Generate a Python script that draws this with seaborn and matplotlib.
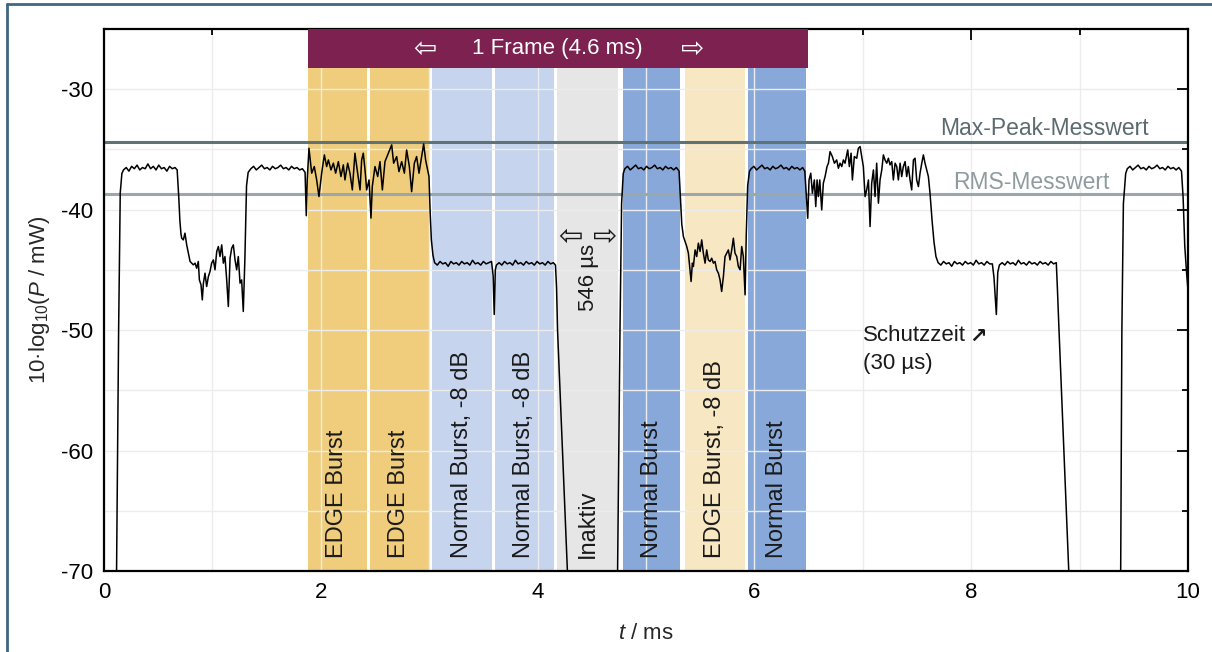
import numpy as np
import pandas as pd
import matplotlib
import matplotlib.pyplot as plt
import seaborn as sns
from matplotlib.lines import Line2D

matplotlib.use("Agg")

# --- Daten -------------------------------------------------------------------
# Zeitschlitze eines GSM/EDGE-Rahmens (Start/Ende in ms) und Beschriftung
slot_start = [1.882, 2.454, 3.026, 3.607, 4.179, 4.788, 5.360, 5.941]
slot_end = [2.426, 2.998, 3.575, 4.148, 4.742, 5.314, 5.913, 6.476]
slot_label = ["EDGE Burst", "EDGE Burst", "Normal Burst, -8 dB", "Normal Burst, -8 dB",
              "Inaktiv", "Normal Burst", "EDGE Burst, -8 dB", "Normal Burst"]
slot_color = ["#f0cd7d", "#f0cd7d", "#c6d4ee", "#c6d4ee",
              "#e6e6e6", "#88a8d9", "#f8e7c3", "#88a8d9"]

frame_start, frame_end = 1.88, 6.49
frame_floor = -28.25

max_peak_db = -34.4
rms_db = -38.7

# Messkurve: Liste von (t / ms, Pegel / dB)
trace_0 = [(0.116, -70.0), (0.135, -50.0), (0.15, -38.6), (0.165, -37.0),
           (0.18, -36.7), (0.205, -36.5), (0.23, -36.8), (0.255, -36.4), (0.28, -36.6),
           (0.305, -36.3), (0.33, -36.7), (0.355, -36.5), (0.38, -36.6), (0.405, -36.2),
           (0.43, -36.6), (0.455, -36.4), (0.48, -36.7), (0.505, -36.3), (0.53, -36.6),
           (0.555, -36.5), (0.58, -36.8), (0.605, -36.4), (0.63, -36.6), (0.655, -36.5),
           (0.675, -36.7)]
trace_1 = [(0.69, -39.0), (0.70, -40.9), (0.71, -42.0), (0.717, -42.37), (0.732, -42.51),
           (0.747, -41.95), (0.763, -42.92), (0.778, -43.61), (0.794, -44.30), (0.809, -44.44),
           (0.824, -44.58), (0.840, -44.44), (0.855, -44.86), (0.870, -44.30), (0.880, -45.83),
           (0.895, -46.24), (0.907, -47.49), (0.917, -46.10), (0.932, -45.27), (0.947, -46.38),
           (0.963, -45.55), (0.978, -45.13), (0.993, -44.44), (1.009, -44.17), (1.024, -44.99),
           (1.040, -43.47), (1.055, -43.06), (1.070, -43.89), (1.086, -42.92), (1.101, -44.44),
           (1.116, -43.89), (1.132, -45.83), (1.147, -48.04), (1.163, -44.03), (1.178, -43.20),
           (1.193, -42.92), (1.209, -44.17), (1.224, -44.99), (1.239, -43.89), (1.255, -46.10),
           (1.270, -45.83), (1.285, -48.45)]
trace_2 = [(1.30, -44.0), (1.315, -38.0), (1.33, -36.9),
           (1.355, -36.6), (1.38, -36.4), (1.405, -36.7), (1.43, -36.5), (1.455, -36.3),
           (1.48, -36.6), (1.505, -36.5), (1.53, -36.7), (1.555, -36.4), (1.58, -36.6),
           (1.605, -36.5), (1.63, -36.3), (1.655, -36.6), (1.68, -36.5), (1.705, -36.7),
           (1.73, -36.4), (1.755, -36.6), (1.78, -36.5), (1.805, -36.7), (1.83, -36.6),
           (1.855, -36.9), (1.866, -40.5), (1.875, -37.5)]
trace_3 = [(1.891, -34.90), (1.916, -36.97), (1.940, -36.42), (1.962, -37.53), (1.983, -38.91),
           (2.008, -36.97), (2.033, -35.45), (2.054, -36.42), (2.070, -35.87), (2.094, -36.70),
           (2.116, -36.14), (2.137, -36.97), (2.162, -36.01), (2.186, -37.25), (2.208, -36.28),
           (2.223, -37.53), (2.248, -36.14), (2.269, -36.97), (2.291, -38.36), (2.315, -35.31),
           (2.340, -36.97), (2.362, -38.36), (2.377, -35.87), (2.392, -35.31), (2.408, -36.70),
           (2.423, -38.36), (2.445, -37.53), (2.463, -40.70), (2.475, -38.08), (2.500, -36.42),
           (2.525, -37.25), (2.546, -36.01), (2.568, -38.36), (2.592, -36.01), (2.623, -35.31),
           (2.654, -34.62), (2.672, -36.14), (2.700, -35.59), (2.721, -36.84), (2.746, -36.01),
           (2.771, -36.97), (2.792, -35.04), (2.817, -36.42), (2.838, -38.50), (2.863, -36.14),
           (2.884, -35.59), (2.906, -36.97), (2.930, -35.59), (2.949, -34.54), (2.967, -35.87),
           (2.986, -36.70), (2.998, -37.25)]
trace_4 = [(3.008, -40.0), (3.02, -42.5), (3.035, -43.8), (3.05, -44.4),
           (3.075, -44.6), (3.1, -44.3), (3.125, -44.5), (3.15, -44.4), (3.175, -44.7),
           (3.2, -44.3), (3.225, -44.5), (3.25, -44.4), (3.275, -44.6), (3.3, -44.3),
           (3.325, -44.5), (3.35, -44.4), (3.375, -44.6), (3.4, -44.2), (3.425, -44.5),
           (3.45, -44.4), (3.475, -44.6), (3.5, -44.3), (3.525, -44.5), (3.55, -44.4),
           (3.575, -44.3), (3.59, -45.5), (3.60, -48.7), (3.61, -45.0), (3.62, -44.6),
           (3.645, -44.4), (3.67, -44.6), (3.695, -44.3), (3.72, -44.5), (3.745, -44.4),
           (3.77, -44.6), (3.795, -44.2), (3.82, -44.5), (3.845, -44.4), (3.87, -44.6),
           (3.895, -44.3), (3.92, -44.5), (3.945, -44.4), (3.97, -44.6), (3.995, -44.3),
           (4.02, -44.5), (4.045, -44.4), (4.07, -44.6), (4.095, -44.3), (4.12, -44.5),
           (4.145, -44.4), (4.165, -44.6), (4.175, -46.5), (4.184, -50.0), (4.275, -70.0)]
trace_5 = [(4.738, -70.0), (4.76, -50.0), (4.775, -39.5), (4.79, -37.0),
           (4.805, -36.6), (4.83, -36.4), (4.855, -36.7), (4.88, -36.5), (4.905, -36.3),
           (4.93, -36.6), (4.955, -36.5), (4.98, -36.7), (5.005, -36.4), (5.03, -36.6),
           (5.055, -36.5), (5.08, -36.3), (5.105, -36.6), (5.13, -36.5), (5.155, -36.7),
           (5.18, -36.4), (5.205, -36.6), (5.23, -36.5), (5.255, -36.7), (5.28, -36.5),
           (5.305, -36.8)]
trace_6 = [(5.32, -39.5), (5.33, -41.2), (5.345, -42.23), (5.360, -42.64), (5.376, -43.06),
           (5.391, -43.61), (5.406, -44.99), (5.416, -45.96), (5.428, -44.44), (5.437, -44.72),
           (5.453, -43.34), (5.468, -43.89), (5.483, -42.78), (5.499, -43.47), (5.514, -42.51),
           (5.529, -43.61), (5.545, -44.44), (5.560, -43.34), (5.575, -44.17), (5.591, -44.30),
           (5.606, -44.03), (5.622, -44.44), (5.637, -44.30), (5.652, -44.99), (5.668, -45.27),
           (5.683, -45.83), (5.698, -46.79), (5.714, -45.55), (5.729, -43.89), (5.745, -43.61),
           (5.760, -43.34), (5.775, -44.17), (5.791, -43.34), (5.806, -42.37), (5.821, -43.61),
           (5.837, -43.89), (5.852, -44.72), (5.868, -44.99), (5.883, -43.06), (5.898, -43.89),
           (5.914, -47.07)]
trace_7 = [(5.925, -42.0), (5.938, -38.0), (5.955, -36.8),
           (5.97, -36.6), (5.995, -36.4), (6.02, -36.7), (6.045, -36.5), (6.07, -36.3),
           (6.095, -36.6), (6.12, -36.5), (6.145, -36.7), (6.17, -36.4), (6.195, -36.6),
           (6.22, -36.5), (6.245, -36.3), (6.27, -36.6), (6.295, -36.5), (6.32, -36.7),
           (6.345, -36.4), (6.37, -36.6), (6.395, -36.5), (6.42, -36.7), (6.445, -36.5),
           (6.465, -36.8)]
trace_8 = [(6.492, -40.71), (6.504, -37.53), (6.520, -36.97), (6.535, -38.63), (6.553, -37.53),
           (6.566, -39.74), (6.578, -37.53), (6.590, -38.91), (6.603, -37.53), (6.621, -40.02),
           (6.636, -37.80), (6.652, -37.25), (6.670, -36.42), (6.683, -36.14), (6.698, -35.18),
           (6.719, -35.59), (6.738, -36.14), (6.759, -35.87), (6.775, -36.56), (6.790, -36.14),
           (6.806, -36.42), (6.821, -35.87), (6.836, -36.14), (6.861, -35.04), (6.876, -36.42),
           (6.892, -35.31), (6.904, -37.53), (6.922, -35.59), (6.944, -35.73), (6.959, -34.90),
           (6.975, -34.76), (6.990, -35.59), (7.005, -36.42), (7.021, -38.91), (7.036, -38.36),
           (7.052, -37.53), (7.067, -41.40), (7.082, -37.80), (7.098, -36.70), (7.113, -38.91),
           (7.128, -36.14), (7.144, -39.46), (7.159, -37.53), (7.175, -36.70), (7.190, -35.45),
           (7.205, -35.87), (7.221, -36.14), (7.236, -35.73), (7.251, -36.28), (7.267, -36.01),
           (7.282, -37.53), (7.298, -36.14), (7.313, -36.42), (7.328, -37.53), (7.344, -36.14),
           (7.359, -37.25), (7.374, -36.42), (7.390, -36.01), (7.405, -37.25), (7.420, -36.42),
           (7.436, -37.53), (7.451, -38.36), (7.467, -35.87), (7.482, -35.73), (7.497, -37.53),
           (7.513, -38.08), (7.528, -36.97), (7.544, -36.14), (7.559, -35.45), (7.574, -36.14),
           (7.590, -36.70), (7.605, -37.25), (7.620, -38.63)]
trace_9 = [(7.64, -41.0), (7.657, -42.7), (7.675, -43.9), (7.695, -44.4),
           (7.72, -44.6), (7.745, -44.3), (7.77, -44.5), (7.795, -44.4), (7.82, -44.7),
           (7.845, -44.3), (7.87, -44.5), (7.895, -44.4), (7.92, -44.6), (7.945, -44.3),
           (7.97, -44.5), (7.995, -44.4), (8.02, -44.6), (8.045, -44.2), (8.07, -44.5),
           (8.095, -44.4), (8.12, -44.6), (8.145, -44.3), (8.17, -44.5), (8.195, -44.5),
           (8.21, -45.6), (8.232, -48.7), (8.245, -45.2), (8.26, -44.6),
           (8.285, -44.4), (8.31, -44.6), (8.335, -44.3), (8.36, -44.5), (8.385, -44.4),
           (8.41, -44.6), (8.435, -44.2), (8.46, -44.5), (8.485, -44.4), (8.51, -44.6),
           (8.535, -44.3), (8.56, -44.5), (8.585, -44.4), (8.61, -44.6), (8.635, -44.3),
           (8.66, -44.5), (8.685, -44.4), (8.71, -44.6), (8.735, -44.3), (8.76, -44.5),
           (8.785, -44.4), (8.795, -46.5), (8.81, -50.0), (8.90, -70.0)]
trace_10 = [(9.379, -70.0), (9.39, -50.0), (9.404, -39.5), (9.425, -37.0),
            (9.44, -36.6), (9.465, -36.4), (9.49, -36.7), (9.515, -36.5), (9.54, -36.3),
            (9.565, -36.6), (9.59, -36.5), (9.615, -36.7), (9.64, -36.4), (9.665, -36.6),
            (9.69, -36.5), (9.715, -36.3), (9.74, -36.6), (9.765, -36.5), (9.79, -36.7),
            (9.815, -36.4), (9.84, -36.6), (9.865, -36.5), (9.89, -36.7), (9.915, -36.5),
            (9.94, -36.8), (9.955, -39.0), (9.97, -43.0), (9.985, -45.0), (10.0, -46.7)]

# zusammenhaengende Kurvenstuecke (Luecken = Pegel unter -70 dB)
pieces = [
    trace_0 + trace_1 + trace_2 + trace_3 + trace_4,
    trace_5 + trace_6 + trace_7 + trace_8 + trace_9,
    trace_10,
]

rows = []
for i, piece in enumerate(pieces):
    for t, p in piece:
        rows.append({"t": t, "p": p, "seg": i})
df = pd.DataFrame(rows)

# --- Plot --------------------------------------------------------------------
sns.set_theme(style="white")
plt.rcParams["font.family"] = ["Liberation Sans", "DejaVu Sans"]
plt.rcParams["mathtext.fontset"] = "custom"
plt.rcParams["mathtext.rm"] = "Liberation Sans"
plt.rcParams["mathtext.it"] = "Liberation Sans:italic"
plt.rcParams["axes.unicode_minus"] = False

ARROWS = ["DejaVu Sans"]
TXT = "#1a1a1a"

y_min, y_max = -70, -25
frac = (frame_floor - y_min) / (y_max - y_min)
banner_mid = (frame_floor + y_max) / 2

fig = plt.figure(figsize=(12.12, 6.52), dpi=100)
ax = fig.add_axes([0.0858, 0.1242, 0.8944, 0.8313])

for s, e, c in zip(slot_start, slot_end, slot_color):
    ax.axvspan(s, e, ymin=0, ymax=frac, color=c, lw=0, zorder=0.2)

ax.axhline(max_peak_db, color="#5f7377", lw=2.2, zorder=1.8)
ax.axhline(rms_db, color="#9aa8ac", lw=2.2, zorder=1.8)

sns.lineplot(data=df, x="t", y="p", units="seg", estimator=None, sort=False,
             color="black", lw=1.1, ax=ax, zorder=2, legend=False)

ax.axvspan(frame_start, frame_end, ymin=frac, ymax=1, color="#7c2150", lw=0, zorder=3)
ax.text((frame_start + frame_end) / 2, banner_mid, "1 Frame (4.6 ms)",
        color="white", fontsize=16, ha="center", va="center", zorder=4)
ax.text(2.96, banner_mid, "⇦", color="white", fontsize=20, family=ARROWS,
        ha="center", va="center", zorder=4)
ax.text(5.43, banner_mid, "⇨", color="white", fontsize=20, family=ARROWS,
        ha="center", va="center", zorder=4)

for s, e, lab in zip(slot_start, slot_end, slot_label):
    ax.text((s + e) / 2, -68.9, lab, rotation=90, ha="center", va="bottom",
            fontsize=17, color=TXT, zorder=4)

# Inaktiv-Dauer
ax.text(4.30, -42.3, "⇦", fontsize=21, family=ARROWS, ha="center", va="center",
        color=TXT, zorder=4)
ax.text(4.62, -42.3, "⇨", fontsize=21, family=ARROWS, ha="center", va="center",
        color=TXT, zorder=4)
ax.text(4.465, -45.6, "546 µs", rotation=90, fontsize=16, ha="center", va="center",
        color=TXT, zorder=4)

ax.text(9.64, -33.3, "Max-Peak-Messwert", fontsize=16.5, color="#5b6b6f",
        ha="right", va="center", zorder=4)
ax.text(9.28, -37.75, "RMS-Messwert", fontsize=16.5, color="#8e9ca0",
        ha="right", va="center", zorder=4)

ax.text(7.0, -49.6, "Schutzzeit", fontsize=16, ha="left", va="top", color=TXT, zorder=4)
ax.text(7.98, -49.75, "↗", fontsize=15, family=ARROWS, fontweight="bold",
        ha="left", va="top", color=TXT, zorder=4)
ax.text(7.0, -51.9, "(30 µs)", fontsize=16, ha="left", va="top", color=TXT, zorder=4)

ax.set_xlim(0, 10)
ax.set_ylim(y_min, y_max)
ax.set_xticks(range(0, 11, 2))
ax.set_xticks(range(1, 10, 2), minor=True)
ax.set_yticks(range(-70, -29, 10))
ax.set_yticks(range(-65, -29, 10), minor=True)
ax.tick_params(which="both", direction="in", top=True, right=True,
               colors="black", labelsize=16, width=1.3)
ax.tick_params(which="major", length=8, pad=8)
ax.tick_params(which="minor", length=4)

ax.set_axisbelow("line")
ax.grid(which="both", color="#ececec", lw=1.0)

for sp in ax.spines.values():
    sp.set_color("black")
    sp.set_linewidth(1.6)

ax.set_xlabel("$t$ / ms", fontsize=16, labelpad=14)
ax.set_ylabel("10·log$_{10}$($P$ / mW)", fontsize=16, labelpad=6)

# Rahmen der Abbildung (oben, links)
fig.add_artist(Line2D([0.006, 0.006], [0, 0.994], transform=fig.transFigure,
                      color="#3d6782", lw=2))
fig.add_artist(Line2D([0.006, 1], [0.994, 0.994], transform=fig.transFigure,
                      color="#3d6782", lw=2))

fig.savefig("out.png", dpi=100)
